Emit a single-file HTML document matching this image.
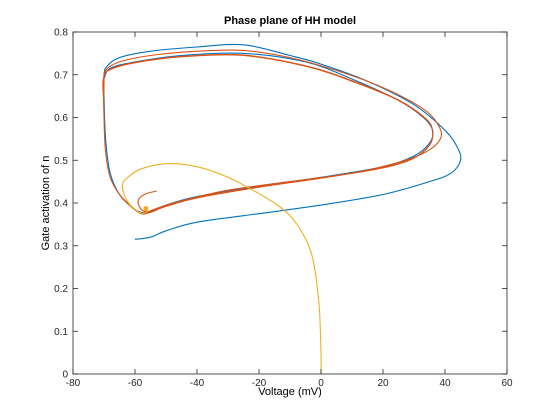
<!DOCTYPE html>
<html><head><meta charset="utf-8"><style>
body{margin:0;background:#fff}
svg{display:block;font-family:"Liberation Sans",Arial,sans-serif}
</style></head><body>
<svg id="chart" width="560" height="420" viewBox="0 0 560 420">
<rect width="560" height="420" fill="#fff"/>
<g id="marks"></g>
<g id="axes"></g>
<text x="290" y="24" text-anchor="middle" font-size="11" font-weight="bold">Phase plane of HH model</text>
<text x="290" y="395" text-anchor="middle" font-size="11">Voltage (mV)</text>
<text transform="translate(49,203) rotate(-90)" text-anchor="middle" font-size="11">Gate activation of n</text>
</svg>
<script>
const xTicks=[-80,-60,-40,-20,0,20,40,60];
const yTicks=[0,0.1,0.2,0.3,0.4,0.5,0.6,0.7,0.8];
const blueV=[-60,-55,-50,-40,-20,0,20,35,42,45,44,40,30,15,0,-10,-25,-40,-55,-65,-69,-70,-70,-69.5,-68,-65,-61,-58,-55,-50,-40,-20,0,20,30,35,36,33,25,10,-5,-25,-45,-60,-68,-70];
const blueN=[0.315,0.32,0.335,0.355,0.375,0.395,0.42,0.45,0.47,0.5,0.53,0.57,0.63,0.685,0.725,0.745,0.77,0.765,0.755,0.74,0.72,0.70,0.65,0.55,0.47,0.42,0.39,0.378,0.38,0.395,0.415,0.44,0.46,0.485,0.51,0.54,0.57,0.6,0.64,0.69,0.73,0.75,0.745,0.73,0.715,0.69];
const redV=[-53,-57,-59,-58,-56,-52,-45,-30,-10,10,25,34,38.5,38,33,20,5,-10,-25,-40,-55,-65,-69.5,-70,-70,-69.5,-68,-65,-61,-58,-55,-50,-40,-20,0,20,30,35,36,34,25,10,-5,-25,-45,-60,-68,-70,-70,-69.5,-68,-65,-61,-58,-55,-50,-40,-20,0,20,30,35,36,34,25,10,-5,-25,-45,-60,-68,-70.2,-70.2];
const redN=[0.428,0.42,0.405,0.385,0.38,0.39,0.405,0.43,0.45,0.47,0.495,0.52,0.55,0.58,0.62,0.67,0.71,0.74,0.757,0.755,0.745,0.73,0.71,0.68,0.6,0.52,0.46,0.42,0.39,0.375,0.378,0.392,0.412,0.437,0.458,0.482,0.505,0.535,0.565,0.595,0.64,0.685,0.72,0.745,0.742,0.728,0.712,0.69,0.6,0.52,0.46,0.42,0.391,0.376,0.379,0.393,0.413,0.438,0.459,0.483,0.506,0.536,0.566,0.596,0.641,0.686,0.721,0.746,0.743,0.729,0.713,0.69,0.65];
const yelV=[0,0,-0.5,-1.5,-3,-6,-10,-15,-22,-30,-40,-50,-58,-62,-64,-63.5,-61.5,-59,-57.5,-56,-56.3];
const yelN=[0,0.05,0.15,0.22,0.28,0.33,0.37,0.4,0.43,0.46,0.485,0.492,0.48,0.462,0.445,0.42,0.395,0.38,0.376,0.38,0.388];
const X=v=>73+(v+80)*3.1, Y=n=>374-n*427.5;
const NS='http://www.w3.org/2000/svg';
function pathOf(vs,ns){
  const p=vs.map((v,i)=>[X(v),Y(ns[i])]);
  let d='M'+p[0][0].toFixed(1)+','+p[0][1].toFixed(1);
  for(let i=0;i<p.length-1;i++){
    const a=p[Math.max(i-1,0)],b=p[i],c=p[i+1],e=p[Math.min(i+2,p.length-1)];
    const c1=[b[0]+(c[0]-a[0])/6,b[1]+(c[1]-a[1])/6],c2=[c[0]-(e[0]-b[0])/6,c[1]-(e[1]-b[1])/6];
    d+=`C${c1[0].toFixed(1)},${c1[1].toFixed(1)} ${c2[0].toFixed(1)},${c2[1].toFixed(1)} ${c[0].toFixed(1)},${c[1].toFixed(1)}`;
  }
  return d;
}
const marks=document.getElementById('marks');
[[blueV,blueN,'#0072BD','blue-trajectory'],[redV,redN,'#D95319','red-trajectory'],[yelV,yelN,'#EDB120','yellow-trajectory']].forEach(s=>{
  const el=document.createElementNS(NS,'path');
  el.setAttribute('d',pathOf(s[0],s[1]));
  el.setAttribute('fill','none');el.setAttribute('stroke',s[2]);el.setAttribute('stroke-width','1.1');
  
  
  marks.appendChild(el);
});
const dot=document.createElementNS(NS,'circle');
dot.setAttribute('cx',X(-56.5));dot.setAttribute('cy',Y(0.387));dot.setAttribute('r','2.5');dot.setAttribute('fill','#EDB120');


marks.appendChild(dot);
const ax=document.getElementById('axes');
const box=document.createElementNS(NS,'rect');
box.setAttribute('x',73);box.setAttribute('y',32);box.setAttribute('width',434);box.setAttribute('height',342);
box.setAttribute('fill','none');box.setAttribute('stroke','#262626');box.setAttribute('stroke-width','0.8');


ax.appendChild(box);
function line(x1,y1,x2,y2){const l=document.createElementNS(NS,'line');l.setAttribute('x1',x1);l.setAttribute('y1',y1);l.setAttribute('x2',x2);l.setAttribute('y2',y2);l.setAttribute('stroke','#262626');l.setAttribute('stroke-width','0.8');


ax.appendChild(l);}
function txt(x,y,s,anc){const t=document.createElementNS(NS,'text');t.setAttribute('x',x);t.setAttribute('y',y);t.setAttribute('text-anchor',anc);t.setAttribute('font-size','10');t.setAttribute('fill','#262626');t.textContent=s;


ax.appendChild(t);}
xTicks.forEach(v=>{const x=X(v);line(x,374,x,369);line(x,32,x,37);txt(x,386,String(v),'middle');});
yTicks.forEach(n=>{const y=Y(n);line(73,y,78,y);line(507,y,502,y);txt(68,y+3.5,String(n),'end');});
</script>
</body></html>
